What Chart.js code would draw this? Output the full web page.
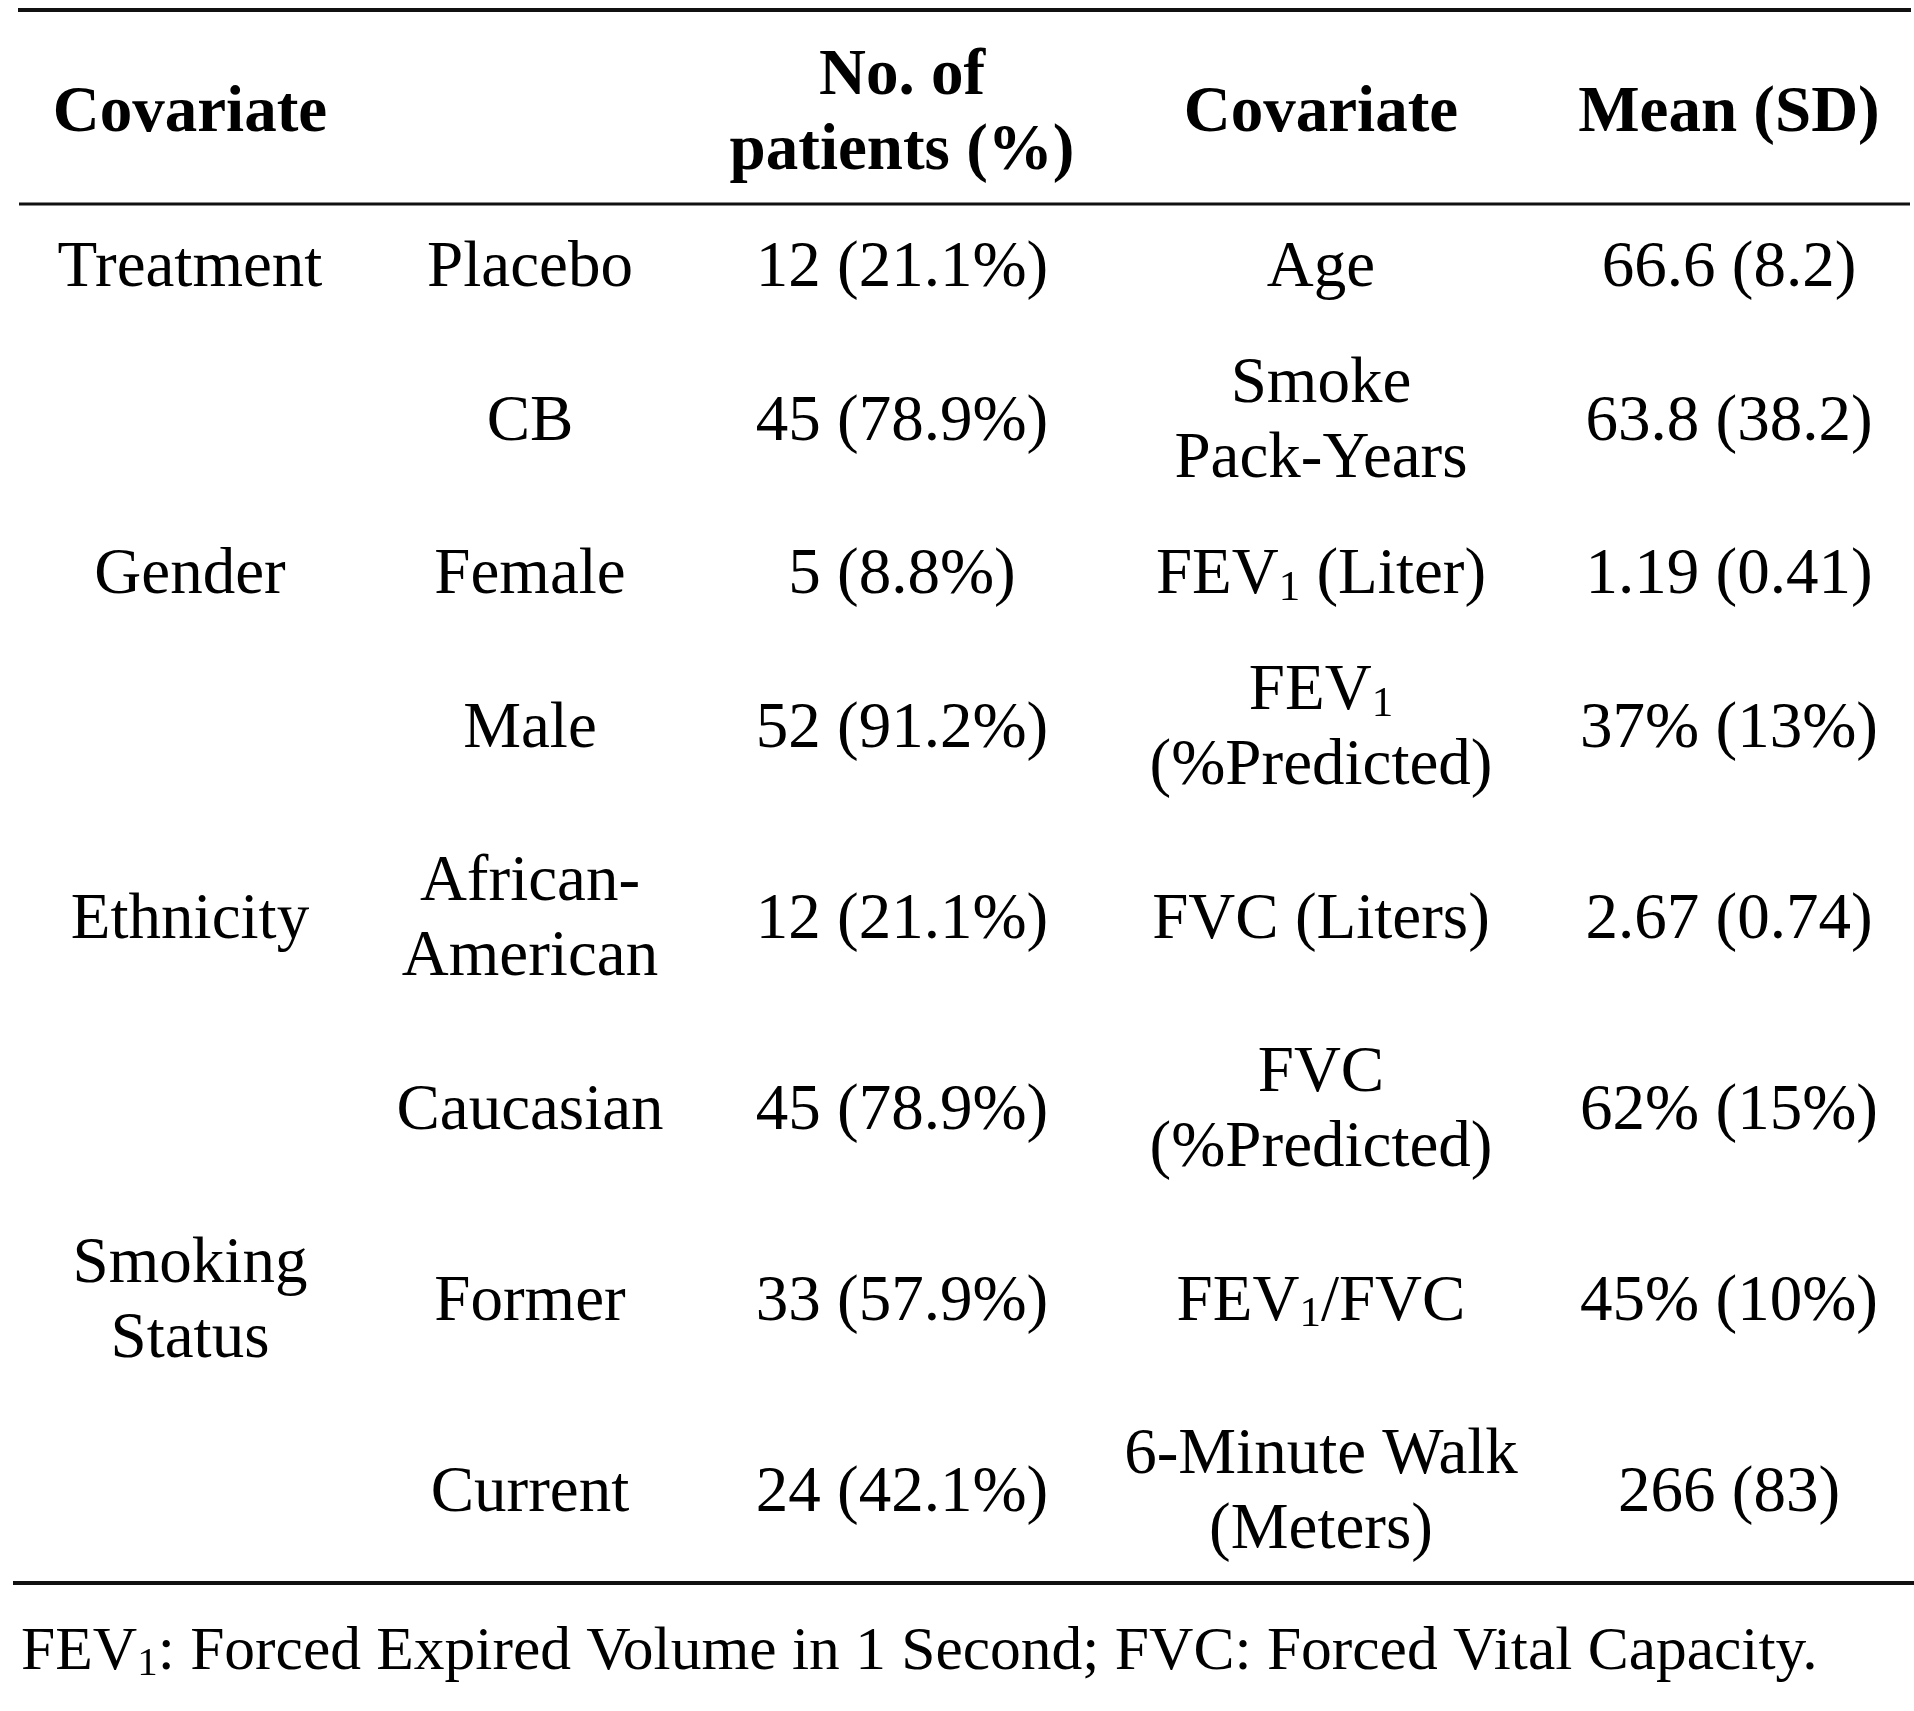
<!DOCTYPE html>
<html>
<head>
<meta charset="utf-8">
<script src="https://cdn.jsdelivr.net/npm/chart.js@4.4.1/dist/chart.umd.min.js"></script>
<style>
  html, body { margin: 0; padding: 0; background: #fff; }
  canvas { display: block; }
</style>
</head>
<body>
<canvas id="table" width="1914" height="1711"></canvas>
<script>
// table content
const headers = ['Covariate', '', 'No. of\npatients (%)', 'Covariate', 'Mean (SD)'];
const groups = ['Treatment', '', 'Gender', '', 'Ethnicity', '', 'Smoking\nStatus', ''];
const levels = ['Placebo', 'CB', 'Female', 'Male', 'African-\nAmerican', 'Caucasian', 'Former', 'Current'];
const patients = [12, 45, 5, 52, 12, 45, 33, 24];
const patientPct = [21.1, 78.9, 8.8, 91.2, 21.1, 78.9, 57.9, 42.1];
const covariates = ['Age', 'Smoke\nPack-Years', 'FEV_1 (Liter)', 'FEV_1\n(%Predicted)', 'FVC (Liters)',
  'FVC\n(%Predicted)', 'FEV_1/FVC', '6-Minute Walk\n(Meters)'];
const means = [66.6, 63.8, 1.19, 37, 2.67, 62, 45, 266];
const sds = [8.2, 38.2, 0.41, 13, 0.74, 15, 10, 83];
const meanUnits = ['', '', '', '%', '', '%', '%', ''];
const footnote = 'FEV_1: Forced Expired Volume in 1 Second; FVC: Forced Vital Capacity.';

// layout (in canvas units, the scales run 0..W and 0..H)
const W = 1914, H = 1711;
const FAMILY = '"Liberation Serif", "Times New Roman", serif';
const SIZE = 65, FOOT_SIZE = 61.5, LINE = 75, ROW_PAD = 41;
const colX = [190, 530, 902, 1321, 1729];
const topRule = 10, headRule = 204;

const countText = patients.map((n, i) => n + ' (' + patientPct[i].toFixed(1) + '%)');
const meanText = means.map((m, i) => m + meanUnits[i] + ' (' + sds[i] + meanUnits[i] + ')');
const bodyCols = [groups, levels, countText, covariates, meanText];

// row centres from the number of text lines in each row
const rowY = [];
let cursor = headRule + 3;
levels.forEach((_, r) => {
  const n = Math.max(...bodyCols.map(col => col[r].split('\n').length));
  const h = ROW_PAD + n * LINE;
  rowY.push(cursor + h / 2);
  cursor += h;
});
const bottomRule = cursor - 2;
const headY = (topRule + headRule) / 2 + 3;
const footY = bottomRule + 66;

function rule(y, x0, x1, width) {
  return {
    data: [{x: x0, y: y}, {x: x1, y: y}],
    showLine: true,
    borderColor: '#111',
    borderWidth: width,
    pointRadius: 0
  };
}

function textSet(points, font, size, align) {
  return {
    data: points,
    pointRadius: 0,
    showLine: false,
    cellFont: font,
    cellSize: size,
    cellAlign: align
  };
}

const datasets = [
  rule(topRule, 18, 1911, 4),
  rule(headRule, 19, 1910, 3),
  rule(bottomRule, 13, W, 4),
  textSet(headers.map((t, c) => ({x: colX[c], y: headY, text: t})), 'bold', SIZE, 'center')
];
bodyCols.forEach((col, c) => {
  datasets.push(textSet(col.map((t, r) => ({x: colX[c], y: rowY[r], text: t})), 'normal', SIZE, 'center'));
});
datasets.push(textSet([{x: 21, y: footY, text: footnote}], 'normal', FOOT_SIZE, 'left'));

// draw one line of text, "_1" means subscript 1
function drawLine(ctx, str, x, y, ds) {
  const size = ds.cellSize;
  const subSize = Math.round(size * 0.66);
  const parts = str.split(/_(\d)/);
  const font = (i) => ds.cellFont + ' ' + (i % 2 ? subSize : size) + 'px ' + FAMILY;
  let total = 0;
  parts.forEach((p, i) => { ctx.font = font(i); total += ctx.measureText(p).width; });
  let left = ds.cellAlign === 'center' ? x - total / 2 : x;
  const base = y + size * 0.33;
  ctx.textAlign = 'left';
  ctx.textBaseline = 'alphabetic';
  parts.forEach((p, i) => {
    ctx.font = font(i);
    ctx.fillText(p, left, i % 2 ? base + size * 0.1 : base);
    left += ctx.measureText(p).width;
  });
}

const cellText = {
  id: 'cellText',
  afterDatasetsDraw(chart) {
    const ctx = chart.ctx;
    ctx.save();
    ctx.fillStyle = '#000';
    chart.data.datasets.forEach((ds, i) => {
      if (!ds.cellFont) return;
      chart.getDatasetMeta(i).data.forEach((pt, j) => {
        const lines = ds.data[j].text.split('\n');
        const first = pt.y - (lines.length - 1) * LINE / 2;
        lines.forEach((ln, k) => {
          if (ln) drawLine(ctx, ln, pt.x, first + k * LINE, ds);
        });
      });
    });
    ctx.restore();
  }
};

new Chart(document.getElementById('table'), {
  type: 'scatter',
  data: {datasets: datasets},
  options: {
    responsive: false,
    devicePixelRatio: 1,
    animation: false,
    events: [],
    layout: {padding: 0},
    plugins: {legend: {display: false}, tooltip: {enabled: false}},
    scales: {
      x: {type: 'linear', min: 0, max: W, display: false},
      y: {type: 'linear', min: 0, max: H, reverse: true, display: false}
    }
  },
  plugins: [cellText]
});
</script>
</body>
</html>
